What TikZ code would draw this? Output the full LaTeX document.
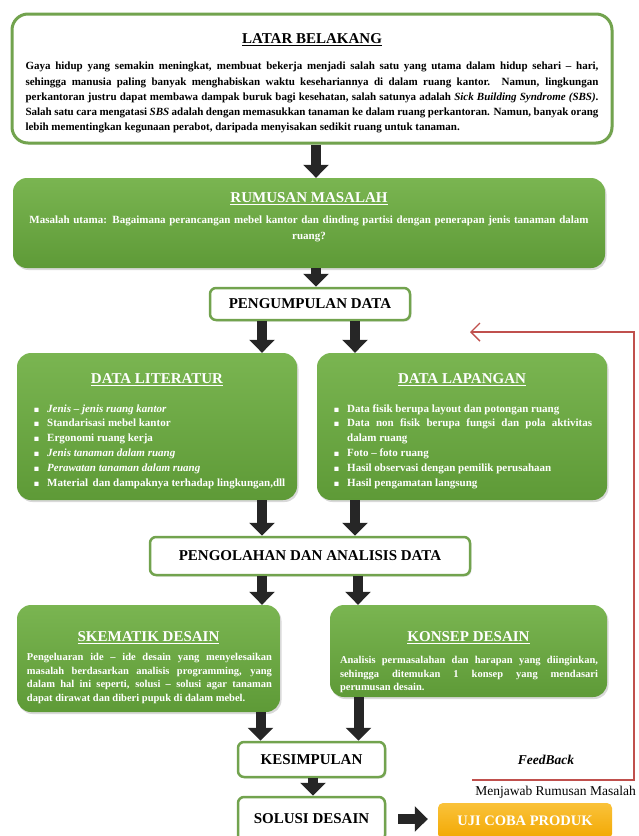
\documentclass[tikz,border=0pt]{standalone}
\usepackage{amssymb}
\usepackage{fontspec}
\setmainfont{Liberation Serif}
\usepackage{enumitem}
\usetikzlibrary{arrows.meta, positioning, calc, shadows}
\definecolor{leaflight}{HTML}{7AB551}
\definecolor{leafdark}{HTML}{5E9A37}
\definecolor{rimgreen}{HTML}{72A34E}
\definecolor{fbred}{HTML}{C0504D}
\definecolor{amberlight}{HTML}{FAC23A}
\definecolor{amberdark}{HTML}{F2A802}
\newcommand{\headfont}{\fontsize{15}{17}\selectfont\bfseries}
\newcommand{\bodyfont}{\fontsize{11}{15.2}\selectfont\bfseries}
\newcommand{\itemfont}{\fontsize{11}{14.8}\selectfont\bfseries}
\newcommand{\notefont}{\fontsize{10.5}{13.6}\selectfont\bfseries}

\begin{document}
\begin{tikzpicture}[
    x=1pt, y=-1pt,
    heavyarrow/.style={line width=10pt, black!85, -{Triangle[length=13pt, width=25pt]}},
    framebox/.style={fill=white, draw=rimgreen, line width=2.5pt, rounded corners=6pt,
      inner sep=0pt, font=\headfont,
      drop shadow={opacity=0.2, shadow xshift=1.5pt, shadow yshift=-1.5pt}},
    leafbox/.style={top color=leaflight, bottom color=leafdark, rounded corners=14pt,
      inner sep=0pt,
      drop shadow={opacity=0.3, shadow xshift=1.5pt, shadow yshift=-2pt}},
    headtext/.style={font=\headfont, anchor=base, inner sep=0pt},
    lighthead/.style={headtext, text=white},
    bodytext/.style={font=\bodyfont, anchor=north, inner sep=0pt, align=justify},
    lightbody/.style={bodytext, text=white},
    fbline/.style={fbred, line width=1.4pt, -{Straight Barb[length=9pt, width=18pt]}},
  ]

  % Page
  \useasboundingbox (0,0) rectangle (638,836);

  % Latar belakang
  \node[framebox, rounded corners=16pt, line width=3pt,
        minimum width=600pt, minimum height=129pt] (latar) at (312,78.5) {};
  \node[headtext] (latarhead) at (312,43) {\underline{LATAR BELAKANG}};
  \node[bodytext, text width=573pt] (latartext) at (312,62) {%
    Gaya hidup yang semakin meningkat, membuat bekerja menjadi salah satu yang utama dalam hidup sehari -- hari,\linebreak
    sehingga manusia paling banyak menghabiskan waktu kesehariannya di dalam ruang kantor. Namun, lingkungan\linebreak
    perkantoran justru dapat membawa dampak buruk bagi kesehatan, salah satunya adalah \textit{Sick Building Syndrome (SBS)}.\linebreak
    Salah satu cara mengatasi \textit{SBS} adalah dengan memasukkan tanaman ke dalam ruang perkantoran. Namun, banyak orang\linebreak
    lebih mementingkan kegunaan perabot, daripada menyisakan sedikit ruang untuk tanaman.};

  % Rumusan masalah
  \node[leafbox, minimum width=592pt, minimum height=90pt] (rumusan) at (309,223) {};
  \node[lighthead] (rumusanhead) at (309,202) {\underline{RUMUSAN MASALAH}};
  \node[lightbody, text width=560pt, align=center] (rumusantext) at (309,216) {%
    Masalah utama: Bagaimana perancangan mebel kantor dan dinding partisi dengan penerapan jenis tanaman dalam\\
    ruang?};

  % Pengumpulan data
  \node[framebox, minimum width=200pt, minimum height=32pt] (pengumpulan) at (310,304)
    {PENGUMPULAN DATA};

  % Data literatur
  \node[leafbox, minimum width=280pt, minimum height=147pt] (literatur) at (157,426.5) {};
  \node[lighthead] (literaturhead) at (157,383) {\underline{DATA LITERATUR}};
  \node[lightbody, font=\itemfont, text width=262pt, anchor=north west] (literaturtext) at (28,397) {%
    \begin{itemize}[leftmargin=19pt, labelsep=8pt, itemsep=0pt, parsep=0pt, topsep=0pt,
        partopsep=0pt, label={\tiny$\blacksquare$}]
      \item \textit{Jenis -- jenis ruang kantor}
      \item Standarisasi mebel kantor
      \item Ergonomi ruang kerja
      \item \textit{Jenis tanaman dalam ruang}
      \item \textit{Perawatan tanaman dalam ruang}
      \item Material\, dan dampaknya terhadap lingkungan,dll
    \end{itemize}};

  % Data lapangan
  \node[leafbox, minimum width=290pt, minimum height=147pt] (lapangan) at (462,426.5) {};
  \node[lighthead] (lapanganhead) at (462,383) {\underline{DATA LAPANGAN}};
  \node[lightbody, font=\itemfont, text width=264pt, anchor=north west] (lapangantext) at (328,397) {%
    \begin{itemize}[leftmargin=19pt, labelsep=8pt, itemsep=0pt, parsep=0pt, topsep=0pt,
        partopsep=0pt, label={\tiny$\blacksquare$}]
      \item Data fisik berupa layout dan potongan ruang
      \item Data non fisik berupa fungsi dan pola aktivitas\linebreak dalam ruang
      \item Foto -- foto ruang
      \item Hasil observasi dengan pemilik perusahaan
      \item Hasil pengamatan langsung
    \end{itemize}};

  % Pengolahan dan analisis
  \node[framebox, minimum width=320pt, minimum height=38pt] (pengolahan) at (310,556)
    {PENGOLAHAN DAN ANALISIS DATA};

  % Skematik desain
  \node[leafbox, minimum width=263pt, minimum height=107pt] (skematik) at (148.5,658.5) {};
  \node[lighthead] (skematikhead) at (148.5,641) {\underline{SKEMATIK DESAIN}};
  \node[lightbody, font=\notefont, text width=245pt] (skematiktext) at (149.5,653) {%
    Pengeluaran ide -- ide desain yang menyelesaikan\linebreak
    masalah berdasarkan analisis programming, yang\linebreak
    dalam hal ini seperti, solusi -- solusi agar tanaman\linebreak
    dapat dirawat dan diberi pupuk di dalam mebel.};

  % Konsep desain
  \node[leafbox, minimum width=277pt, minimum height=92pt] (konsep) at (468.5,651) {};
  \node[lighthead] (konsephead) at (468.5,641) {\underline{KONSEP DESAIN}};
  \node[lightbody, font=\notefont, text width=258pt] (konseptext) at (469,656) {%
    Analisis permasalahan dan harapan yang diinginkan,\linebreak
    sehingga ditemukan 1 konsep yang mendasari\linebreak
    perumusan desain.};

  % Kesimpulan, solusi, uji coba
  \node[framebox, minimum width=147pt, minimum height=35pt] (kesimpulan) at (311.5,759.5)
    {KESIMPULAN};
  \node[framebox, minimum width=147pt, minimum height=44pt] (solusi) at (311.5,819)
    {SOLUSI DESAIN};
  \node[top color=amberlight, bottom color=amberdark, rounded corners=5pt,
        minimum width=174pt, minimum height=36pt, inner sep=0pt,
        font=\fontsize{14.5}{16}\selectfont\bfseries, text=white] (uji) at (525,821)
    {UJI COBA PRODUK};

  % Block arrows
  \draw[heavyarrow] ([xshift=4pt]latar.south) -- ([xshift=4pt]latar.south |- rumusan.north);
  \draw[heavyarrow] ([xshift=6pt]pengumpulan.north |- rumusan.south) -- ([xshift=6pt]pengumpulan.north);
  \draw[heavyarrow] ([xshift=-48pt]pengumpulan.south) -- ([xshift=-48pt]pengumpulan.south |- literatur.north);
  \draw[heavyarrow] ([xshift=45pt]pengumpulan.south) -- ([xshift=45pt]pengumpulan.south |- lapangan.north);
  \draw[heavyarrow] ([xshift=-48pt]pengolahan.north |- literatur.south) -- ([xshift=-48pt]pengolahan.north);
  \draw[heavyarrow] ([xshift=45pt]pengolahan.north |- lapangan.south) -- ([xshift=45pt]pengolahan.north);
  \draw[heavyarrow] ([xshift=-48pt]pengolahan.south) -- ([xshift=-48pt]pengolahan.south |- skematik.north);
  \draw[heavyarrow] ([xshift=48pt]pengolahan.south) -- ([xshift=48pt]pengolahan.south |- konsep.north);
  \draw[heavyarrow] ([xshift=-51pt]kesimpulan.north |- skematik.south) -- ([xshift=-51pt]kesimpulan.north);
  \draw[heavyarrow] ([xshift=47pt]kesimpulan.north |- konsep.south) -- ([xshift=47pt]kesimpulan.north);
  \draw[heavyarrow] ([xshift=1.5pt]kesimpulan.south) -- ([xshift=1.5pt]solusi.north);
  \draw[heavyarrow] ([xshift=12pt]solusi.east) -- ([xshift=-10pt]solusi.east -| uji.west);

  % Feedback loop
  \coordinate (fbend) at (472,780);
  \coordinate (fbbot) at (634,780);
  \coordinate (fbtop) at (634,332);
  \coordinate (fbtip) at (470,332);
  \draw[fbline] (fbend) -- (fbbot) -- (fbtop) -- (fbtip);
  \node[font=\fontsize{13.5}{15}\selectfont\bfseries\itshape] (feedback) at (546,760) {FeedBack};
  \node[font=\fontsize{13.5}{16}\selectfont, anchor=base east, inner sep=0pt] (menjawab) at (636,795)
    {Menjawab Rumusan Masalah};

\end{tikzpicture}
\end{document}
